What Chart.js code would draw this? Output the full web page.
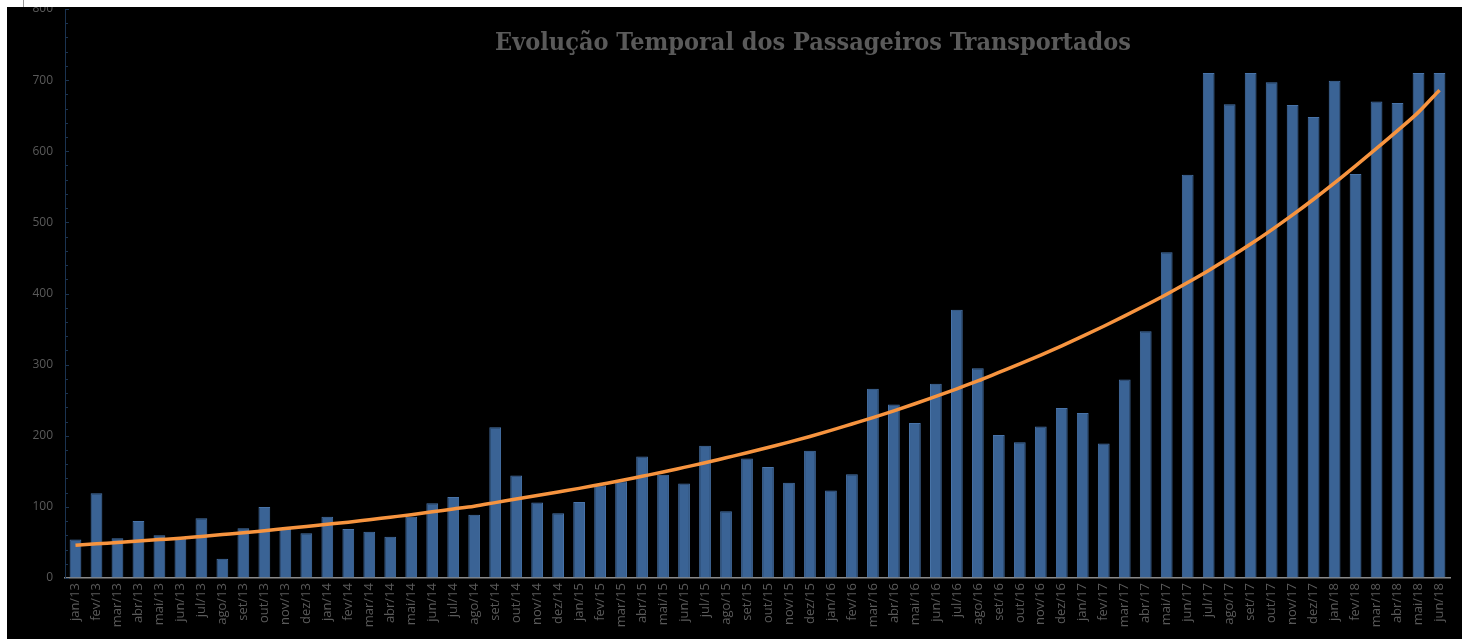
<!DOCTYPE html>
<html>
<head>
<meta charset="utf-8">
<script src="https://cdn.jsdelivr.net/npm/chart.js@4.4.1/dist/chart.umd.min.js"></script>
<style>
  html, body { margin: 0; padding: 0; background: #ffffff; width: 1462px; height: 639px; overflow: hidden; }
  #frame { position: absolute; left: 7px; top: 7px; width: 1455px; height: 632px; background: #000000; overflow: hidden; }
  #wrap { position: absolute; left: -7px; top: -26px; width: 1462px; height: 660px; }
  #title { position: absolute; left: 0; top: 20px; width: 1462px; text-align: center; padding-left: 150px; box-sizing: border-box;
           font-family: "DejaVu Serif Condensed", "DejaVu Serif", serif; font-weight: bold; font-size: 25px; color: #5a5a5a; }
  #mark { position: absolute; left: 23px; top: 0; width: 1px; height: 8px; background: #9a9a9a; }
</style>
</head>
<body>
<div id="mark"></div>
<div id="frame">
  <div id="wrap"><canvas id="c" width="1462" height="660"></canvas></div>
  <div id="title">Evolução Temporal dos Passageiros Transportados</div>
</div>
<script>
const categories = [
  "jan/13","fev/13","mar/13","abr/13","mai/13","jun/13","jul/13","ago/13","set/13","out/13","nov/13","dez/13",
  "jan/14","fev/14","mar/14","abr/14","mai/14","jun/14","jul/14","ago/14","set/14","out/14","nov/14","dez/14",
  "jan/15","fev/15","mar/15","abr/15","mai/15","jun/15","jul/15","ago/15","set/15","out/15","nov/15","dez/15",
  "jan/16","fev/16","mar/16","abr/16","mai/16","jun/16","jul/16","ago/16","set/16","out/16","nov/16","dez/16",
  "jan/17","fev/17","mar/17","abr/17","mai/17","jun/17","jul/17","ago/17","set/17","out/17","nov/17","dez/17",
  "jan/18","fev/18","mar/18","abr/18","mai/18","jun/18"
];
const passengers = [
  54,119,56,80,60,56,84,27,70,100,69,63,
  86,69,65,58,86,105,114,89,212,144,106,91,
  107,130,136,171,145,133,186,94,168,156,134,179,
  123,146,266,244,218,273,377,295,201,191,213,239,
  232,189,279,347,458,567,710,666,710,697,665,648,
  699,568,670,668,710,710
];
const trend = [
  46,48,50,52,54,56,58.5,61,63.5,66.5,69.5,72.5,
  75.5,78.5,82,85.5,89,93,97,101,106,111,116,121,
  126,131.5,137,143,149,155.5,162,169,176,183.5,191,199,
  207.5,216.5,225.5,235,245,255.5,266,277,289,301,313.5,326.5,
  340,354,368.5,383.5,399,415.5,432.5,450.5,469.5,489.5,510.5,532.5,
  555.5,579.5,604,629,655,686
];
const yMin = 0, yMax = 800, yMajor = 100, yMinor = 20;

const insideTicks = {
  id: 'insideTicks',
  afterDraw(chart) {
    const y = chart.scales.y, ctx = chart.ctx;
    const x0 = chart.chartArea.left;
    ctx.save();
    ctx.strokeStyle = '#1b3350';
    ctx.lineWidth = 1;
    for (let v = yMin; v <= yMax; v += yMinor) {
      const py = Math.round(y.getPixelForValue(v)) + 0.5;
      const len = (v % yMajor === 0) ? 4 : 3;
      ctx.beginPath();
      ctx.moveTo(x0, py);
      ctx.lineTo(x0 + len, py);
      ctx.stroke();
    }
    ctx.restore();
  }
};

new Chart(document.getElementById('c'), {
  data: {
    labels: categories,
    datasets: [
      {
        type: 'line',
        data: trend,
        borderColor: '#f7943f',
        borderWidth: 3.5,
        pointRadius: 0,
        cubicInterpolationMode: 'monotone',
        fill: false,
        order: 0
      },
      {
        type: 'bar',
        data: passengers,
        backgroundColor: '#3a6395',
        borderColor: '#4873a8',
        borderWidth: 1,
        barPercentage: 0.56,
        categoryPercentage: 1.0,
        order: 1
      }
    ]
  },
  options: {
    responsive: false,
    animation: false,
    events: [],
    layout: { padding: { left: 0, right: 12, top: 28, bottom: 0 } },
    plugins: { legend: { display: false }, title: { display: false }, tooltip: { enabled: false } },
    scales: {
      x: {
        offset: true,
        grid: { display: true, drawOnChartArea: false, drawTicks: false, color: 'rgba(0,0,0,0)' },
        border: { display: true, color: '#8a8a8a', width: 1.5 },
        ticks: {
          color: '#5a5a5a',
          font: { family: '"Open Sans", "Noto Sans", sans-serif', size: 13 },
          maxRotation: 90, minRotation: 90, autoSkip: false, padding: 5
        },
        afterFit(s) { s.height = 63; }
      },
      y: {
        min: yMin, max: yMax,
        grid: { display: true, drawOnChartArea: false, drawTicks: false, color: 'rgba(0,0,0,0)' },
        border: { display: true, color: '#1b3350', width: 1 },
        ticks: {
          stepSize: yMajor,
          color: '#5a5a5a',
          font: { family: '"Open Sans", "Noto Sans", sans-serif', size: 12 },
          padding: 12
        },
        afterFit(s) { s.width = 65; }
      }
    }
  },
  plugins: [insideTicks]
});
</script>
</body>
</html>
